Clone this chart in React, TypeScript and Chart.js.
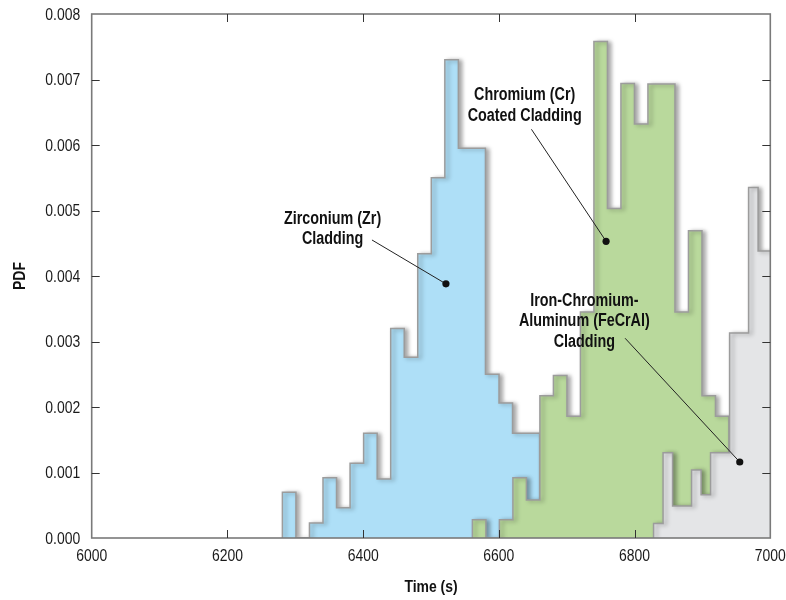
import React, { useEffect, useRef } from 'react';
import { Chart, registerables } from 'chart.js';

Chart.register(...registerables);

// ---- axis ----
const xMin = 6000;
const xMax = 7000;
const xStep = 200;
const yMin = 0;
const yMax = 0.008;
const yStep = 0.001;
const xTitle = 'Time (s)';
const yTitle = 'PDF';

// ---- histogram series (bin start, bin width, PDF values per bin) ----
const zrName = 'Zirconium (Zr) Cladding';
const zrStart = 6281;
const zrWidth = 19.95;
const zrValues = [
  0.0007, 0, 0.00023, 0.00092, 0.00046, 0.00114, 0.0016, 0.0009, 0.0032, 0.00276,
  0.00434, 0.0055, 0.0073, 0.00595, 0.00595, 0.0025, 0.00206, 0.0016, 0.0016,
];

const crName = 'Chromium (Cr) Coated Cladding';
const crStart = 6561;
const crWidth = 19.9;
const crValues = [
  0.00028, 0, 0.00028, 0.00092, 0.00058, 0.00217, 0.00248, 0.00186, 0.00345, 0.00758,
  0.00503, 0.00694, 0.00632, 0.00693, 0.00693, 0.00345, 0.00469, 0.00217, 0.00186,
];

const feName = 'Iron-Chromium-Aluminum (FeCrAl) Cladding';
const feStart = 6828;
const feWidth = 14;
const feValues = [
  0.00022, 0.0013, 0.00049, 0.00049, 0.00104, 0.00066, 0.0013, 0.0013, 0.00313,
  0.00313, 0.00535, 0.00438, 0.00438,
];

// ---- annotations (data coordinates) ----
const noteLines = [
  ['Zirconium (Zr)', 'Cladding'],
  ['Chromium (Cr)', 'Coated Cladding'],
  ['Iron-Chromium-', 'Aluminum (FeCrAl)', 'Cladding'],
];
const noteX = [6355, 6638, 6726];
const noteTopY = [0.00487, 0.00676, 0.00362];
const leaderStartX = [6413, 6648, 6786];
const leaderStartY = [0.00455, 0.00624, 0.00305];
const pointX = [6522, 6758, 6955];
const pointY = [0.00388, 0.00453, 0.00116];

const FONT = "'Liberation Sans', Arial, sans-serif";
const NARROW = 0.82;

function stepPoints(start: number, width: number, values: number[]) {
  const pts: { x: number; y: number }[] = [{ x: start, y: 0 }];
  values.forEach((v, i) => pts.push({ x: start + i * width, y: v }));
  const end = start + values.length * width;
  pts.push({ x: end, y: values[values.length - 1] });
  pts.push({ x: end, y: 0 });
  return pts;
}

function narrowText(ctx: CanvasRenderingContext2D, text: string, x: number, y: number, rot = 0) {
  ctx.save();
  ctx.translate(x, y);
  if (rot) ctx.rotate(rot);
  ctx.scale(NARROW, 1);
  ctx.fillText(text, 0, 0);
  ctx.restore();
}

const decorPlugin = {
  id: 'decor',
  beforeDatasetsDraw(chart: any) {
    const ctx = chart.ctx;
    ctx.save();
    ctx.shadowColor = 'rgba(0,0,0,0.35)';
    ctx.shadowBlur = 4;
    ctx.shadowOffsetX = 3;
    ctx.shadowOffsetY = 1;
  },
  afterDatasetsDraw(chart: any) {
    chart.ctx.restore();
  },
  afterDraw(chart: any) {
    const ctx = chart.ctx as CanvasRenderingContext2D;
    const { left, right, top, bottom } = chart.chartArea;
    const xs = chart.scales.x;
    const ys = chart.scales.y;
    ctx.save();
    // frame
    ctx.strokeStyle = '#7a7a7a';
    ctx.lineWidth = 1.6;
    ctx.strokeRect(left, top, right - left, bottom - top);
    // inward ticks
    ctx.strokeStyle = '#333';
    ctx.lineWidth = 1;
    const tl = 8;
    xs.ticks.forEach((t: any) => {
      const px = Math.round(xs.getPixelForValue(t.value)) + 0.5;
      if (t.value === xMin || t.value === xMax) return;
      ctx.beginPath();
      ctx.moveTo(px, bottom);
      ctx.lineTo(px, bottom - tl);
      ctx.moveTo(px, top);
      ctx.lineTo(px, top + tl);
      ctx.stroke();
    });
    ys.ticks.forEach((t: any) => {
      const py = Math.round(ys.getPixelForValue(t.value)) + 0.5;
      if (Math.abs(t.value - yMin) < 1e-9 || Math.abs(t.value - yMax) < 1e-9) return;
      ctx.beginPath();
      ctx.moveTo(left, py);
      ctx.lineTo(left + tl, py);
      ctx.moveTo(right, py);
      ctx.lineTo(right - tl, py);
      ctx.stroke();
    });
    // tick labels
    ctx.fillStyle = '#1a1a1a';
    ctx.font = `17px ${FONT}`;
    ctx.textBaseline = 'middle';
    ctx.textAlign = 'center';
    xs.ticks.forEach((t: any) => {
      narrowText(ctx, String(t.value), xs.getPixelForValue(t.value), bottom + 18);
    });
    ctx.textAlign = 'right';
    ys.ticks.forEach((t: any) => {
      narrowText(ctx, Number(t.value).toFixed(3), left - 11.5, ys.getPixelForValue(t.value) + 1);
    });
    // axis titles
    ctx.fillStyle = '#111';
    ctx.font = `bold 17px ${FONT}`;
    ctx.textAlign = 'center';
    narrowText(ctx, xTitle, (left + right) / 2, bottom + 49);
    narrowText(ctx, yTitle, 20, (top + bottom) / 2, -Math.PI / 2);
    // annotations
    ctx.fillStyle = '#111';
    ctx.strokeStyle = '#222';
    ctx.font = `bold 17.5px ${FONT}`;
    ctx.textAlign = 'center';
    ctx.textBaseline = 'middle';
    noteLines.forEach((lines, i) => {
      const cx = xs.getPixelForValue(noteX[i]);
      const cy = ys.getPixelForValue(noteTopY[i]);
      lines.forEach((s, j) => narrowText(ctx, s, cx, cy + j * 20.5));
      const sx = xs.getPixelForValue(leaderStartX[i]);
      const sy = ys.getPixelForValue(leaderStartY[i]);
      const px = xs.getPixelForValue(pointX[i]);
      const py = ys.getPixelForValue(pointY[i]);
      ctx.lineWidth = 1;
      ctx.beginPath();
      ctx.moveTo(sx, sy);
      ctx.lineTo(px, py);
      ctx.stroke();
      ctx.beginPath();
      ctx.arc(px, py, 3.6, 0, Math.PI * 2);
      ctx.fill();
    });
    ctx.restore();
  },
};

function zeroPad(s: any) {
  s.paddingTop = 0;
  s.paddingBottom = 0;
  s.paddingLeft = 0;
  s.paddingRight = 0;
}

export default function App() {
  const ref = useRef<HTMLCanvasElement | null>(null);
  useEffect(() => {
    if (!ref.current) return;
    const common = {
      stepped: true,
      fill: 'origin',
      borderColor: '#9c9c9c',
      borderWidth: 1.5,
      pointRadius: 0,
      tension: 0,
    };
    const chart = new Chart(ref.current, {
      type: 'line',
      data: {
        datasets: [
          { ...common, label: feName, data: stepPoints(feStart, feWidth, feValues), backgroundColor: '#e4e5e7' },
          { ...common, label: crName, data: stepPoints(crStart, crWidth, crValues), backgroundColor: '#b9d99c' },
          { ...common, label: zrName, data: stepPoints(zrStart, zrWidth, zrValues), backgroundColor: '#aedff7' },
        ] as any,
      },
      options: {
        animation: false,
        responsive: true,
        maintainAspectRatio: false,
        parsing: false as any,
        layout: { padding: { left: 0, right: 15.7, top: 14, bottom: 0 } },
        plugins: { legend: { display: false }, tooltip: { enabled: false } },
        scales: {
          x: {
            type: 'linear',
            min: xMin,
            max: xMax,
            grid: { display: false, drawTicks: false },
            border: { display: false },
            ticks: { stepSize: xStep, display: false },
            afterFit: (s: any) => {
              s.height = 62;
              zeroPad(s);
            },
          },
          y: {
            type: 'linear',
            min: yMin,
            max: yMax,
            grid: { display: false, drawTicks: false },
            border: { display: false },
            ticks: { stepSize: yStep, display: false },
            afterFit: (s: any) => {
              s.width = 91.7;
              zeroPad(s);
            },
          },
        },
      } as any,
      plugins: [decorPlugin],
    });
    return () => chart.destroy();
  }, []);
  return (
    <div style={{ position: 'fixed', left: 0, top: 0, width: 786, height: 600, background: '#fff' }}>
      <canvas ref={ref} />
    </div>
  );
}
